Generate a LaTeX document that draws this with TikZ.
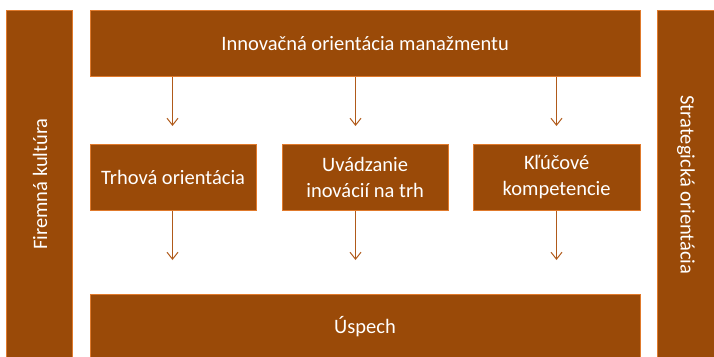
\documentclass[tikz,border=0pt]{standalone}
\usepackage{fontspec}
\setmainfont{Carlito}
\usetikzlibrary{arrows.meta}
\definecolor{boxfill}{HTML}{9A4A08}
\definecolor{boxline}{HTML}{E07A2C}
\definecolor{arrcol}{HTML}{B05A1A}
\tikzset{
  txt/.style={text=white, font=\fontsize{20.5}{26}\selectfont},
  blk/.style={draw=boxline, line width=0.8pt, fill=boxfill, anchor=north west,
    inner sep=0pt, align=center, txt},
  arr/.style={draw=arrcol, line width=1pt, -{Straight Barb[length=7pt,width=11pt]}}
}
\begin{document}
\begin{tikzpicture}[x=1pt,y=-1pt]
\useasboundingbox (0,0) rectangle (714,356);
\begin{scope}
\clip (0,0) rectangle (714,356);
\node[blk, minimum width=66pt, minimum height=360pt] (left) at (6,10) {};
\node[blk, minimum width=66pt, minimum height=360pt] (right) at (656.5,10) {};
\node[blk, minimum width=550.5pt, minimum height=80pt] (bot) at (89.5,294) {};
\end{scope}
\node[rotate=90, txt] (lt) at (40,184) {Firemná kultúra};
\node[rotate=-90, txt] (rt) at (686,185) {Strategická orientácia};
\node[txt] (bt) at (365,327) {Úspech};
\node[blk, minimum width=550.5pt, minimum height=66pt] (top) at (89.5,10) {Innovačná orientácia manažmentu};
\node[blk, minimum width=166.5pt, minimum height=66.5pt] (m1) at (89.5,143.5) {Trhová orientácia};
\node[blk, minimum width=166.5pt, minimum height=66.5pt] (m2) at (281.5,143.5) {Uvádzanie\\inovácií na trh};
\node[blk, minimum width=167.5pt, minimum height=66.5pt] (m3) at (472.5,143.5) {Kľúčové\\kompetencie};
\coordinate (a1) at (172.5,126);
\coordinate (a2) at (355.5,126);
\coordinate (a3) at (556.5,126);
\coordinate (b1) at (172.5,260);
\coordinate (b2) at (355.5,260);
\coordinate (b3) at (556.5,260);
\draw[arr] (top.south -| a1) -- (a1);
\draw[arr] (top.south -| a2) -- (a2);
\draw[arr] (top.south -| a3) -- (a3);
\draw[arr] (m1.south -| b1) -- (b1);
\draw[arr] (m2.south -| b2) -- (b2);
\draw[arr] (m3.south -| b3) -- (b3);
\end{tikzpicture}
\end{document}
